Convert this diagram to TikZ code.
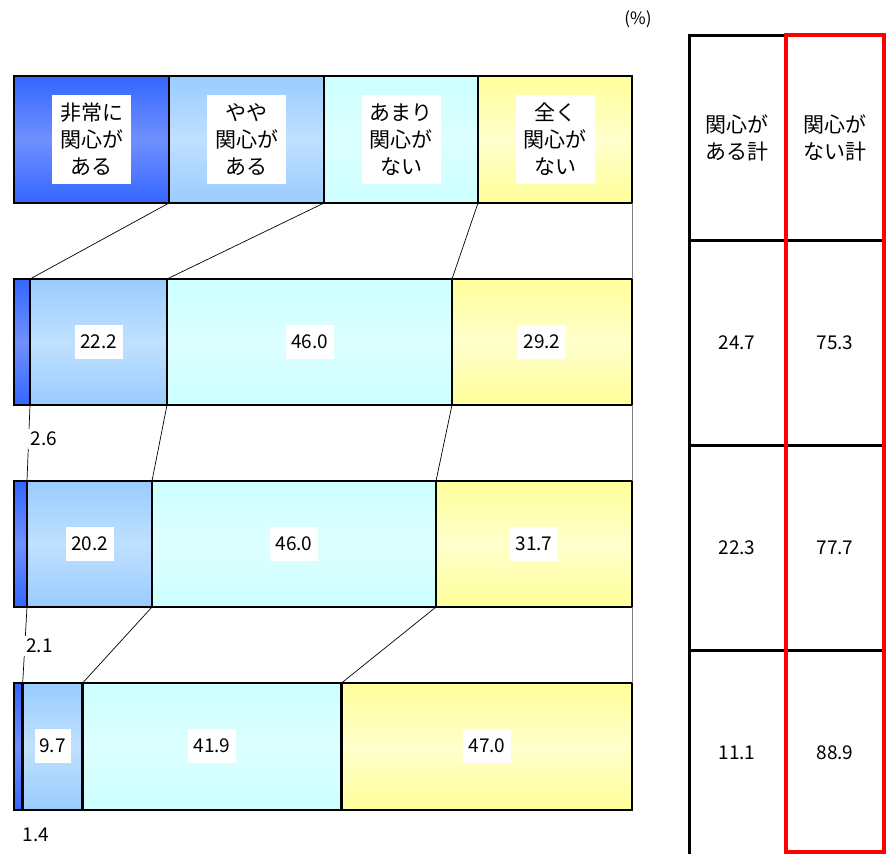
\documentclass[tikz,border=0pt]{standalone}
\usepackage{fontspec}
\setmainfont{Noto Sans CJK JP}
\definecolor{dbE}{HTML}{3366FF}
\definecolor{dbM}{HTML}{7090FF}
\definecolor{lbE}{HTML}{99CCFF}
\definecolor{lbM}{HTML}{C0E0FF}
\definecolor{cyE}{HTML}{CCFFFF}
\definecolor{cyM}{HTML}{DDFFFF}
\definecolor{yeE}{HTML}{FFFF99}
\definecolor{yeM}{HTML}{FFFFCC}
\definecolor{redbox}{HTML}{FF0000}
\begin{document}
\begin{tikzpicture}[x=1pt,y=-1pt,
  shd1/.style={top color=dbE,bottom color=dbE,middle color=dbM},
  shd2/.style={top color=lbE,bottom color=lbE,middle color=lbM},
  shd3/.style={top color=cyE,bottom color=cyE,middle color=cyM},
  shd4/.style={top color=yeE,bottom color=yeE,middle color=yeM},
  segline/.style={draw=black,line width=2.6pt},
  conn/.style={draw=black,line width=0.7pt},
  gconn/.style={draw=gray,line width=1pt},
  hlbl/.style={fill=white,align=center,inner sep=0pt,minimum width=79pt,minimum height=89pt,font=\fontsize{21}{27}\selectfont},
  vlbl/.style={fill=white,inner sep=0pt,minimum width=48pt,minimum height=34pt,font=\fontsize{19}{23}\selectfont},
  slbl/.style={fill=white,inner sep=3pt,font=\fontsize{19}{23}\selectfont},
  thead/.style={align=center,font=\fontsize{21}{27}\selectfont},
  tval/.style={font=\fontsize{19}{23}\selectfont},
  tbl/.style={draw=black,line width=3pt},
  rbox/.style={draw=redbox,line width=4pt}]
\useasboundingbox (0,0) rectangle (890,854);
% bars
\foreach \r/\yt/\yb/\a/\b/\c/\d/\e in {0/76/203/14/169/324/478/632,1/279/405/14/30/167/452/632,2/481/607/14/27/152/436/632,3/683/810/14/22.7/82.6/341.5/632}{
  \coordinate (t\r0) at (\a,\yt); \coordinate (b\r0) at (\a,\yb);
  \coordinate (t\r1) at (\b,\yt); \coordinate (b\r1) at (\b,\yb);
  \coordinate (t\r2) at (\c,\yt); \coordinate (b\r2) at (\c,\yb);
  \coordinate (t\r3) at (\d,\yt); \coordinate (b\r3) at (\d,\yb);
  \coordinate (t\r4) at (\e,\yt); \coordinate (b\r4) at (\e,\yb);
  \path[shd1] (t\r0) rectangle (b\r1);
  \path[shd2] (t\r1) rectangle (b\r2);
  \path[shd3] (t\r2) rectangle (b\r3);
  \path[shd4] (t\r3) rectangle (b\r4);
  \draw[segline] (t\r0) rectangle (b\r1);
  \draw[segline] (t\r1) rectangle (b\r2);
  \draw[segline] (t\r2) rectangle (b\r3);
  \draw[segline] (t\r3) rectangle (b\r4);
}
% connectors
\foreach \r/\s in {0/1,1/2,2/3}{
  \foreach \k in {1,2,3}{\draw[conn] (b\r\k) -- (t\s\k);}
  \draw[gconn] (b\r4) -- (t\s4);
}
% header labels
\node[hlbl] (h1) at (91.5,139.5) {非常に\\関心が\\ある};
\node[hlbl] (h2) at (246.5,139.5) {やや\\関心が\\ある};
\node[hlbl] (h3) at (401,139.5) {あまり\\関心が\\ない};
\node[hlbl] (h4) at (555,139.5) {全く\\関心が\\ない};
% value labels
\node[vlbl] (v12) at (98.5,342) {22.2};
\node[vlbl] (v13) at (309.5,342) {46.0};
\node[vlbl] (v14) at (542,342) {29.2};
\node[vlbl] (v22) at (89.5,544) {20.2};
\node[vlbl] (v23) at (294,544) {46.0};
\node[vlbl] (v24) at (534,544) {31.7};
\node[vlbl,minimum width=36pt] (v32) at (52.6,746) {9.7};
\node[vlbl] (v33) at (212,746) {41.9};
\node[vlbl] (v34) at (487,746) {47.0};
\node[slbl] (s1) at (44,439) {2.6};
\node[slbl] (s2) at (39.5,646) {2.1};
\node[slbl] (s3) at (36,835) {1.4};
\node[font=\fontsize{17}{20}\selectfont] (pct) at (638,19) {(\%)};
% table
\draw[tbl] (689,854) -- (689,35) -- (786,35);
\draw[tbl] (689,240) -- (884,240);
\draw[tbl] (689,445) -- (884,445);
\draw[tbl] (689,650) -- (884,650);
\draw[rbox] (786,35) rectangle (884,852);
\node[thead] (th1) at (737,138) {関心が\\ある計};
\node[thead] (th2) at (835,138) {関心が\\ない計};
\node[tval] (c11) at (737,343) {24.7};
\node[tval] (c12) at (835,343) {75.3};
\node[tval] (c21) at (737,548) {22.3};
\node[tval] (c22) at (835,548) {77.7};
\node[tval] (c31) at (737,753) {11.1};
\node[tval] (c32) at (835,753) {88.9};
\end{tikzpicture}
\end{document}
